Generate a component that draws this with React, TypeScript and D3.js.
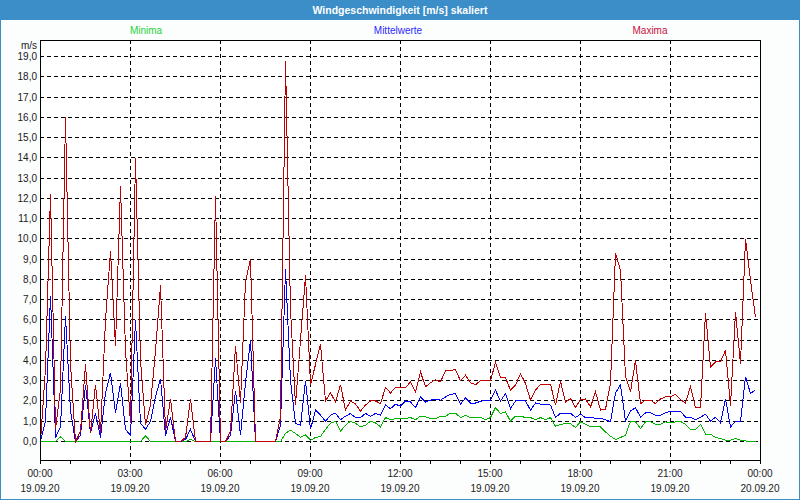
import { useEffect } from "react";
import * as d3 from "d3";

// 10-minute values, 19.09.20 00:00 .. 23:50
const maxima = [
  0, 3.6, 12.2, 0.6, 2.6, 16.0, 3.8, 0, 0.5, 3.8,
  0.4, 2.8, 0.4, 6.0, 9.4, 4.7, 12.6, 4.5, 0.9, 14.0,
  4.0, 0.8, 1.8, 4.5, 7.7, 0.5, 2.1, 0, 0, 0.2,
  2.1, 0, 0, 0, 0, 12.1, 0, 0, 0.5, 4.7,
  1.9, 7.9, 9.0, 0, 0, 0, 0, 0, 1.2, 18.8,
  6.5, 1.8, 5.0, 8.2, 2.8, 3.8, 4.8, 2.0, 2.4, 1.95,
  2.8, 1.55, 2.0, 1.85, 1.5, 1.8, 2.0, 2.0, 1.87, 2.66,
  2.4, 2.66, 2.66, 2.66, 2.94, 2.45, 3.43, 2.7, 2.9, 3.05,
  2.94, 3.5, 3.5, 3.55, 3.0, 3.27, 2.9, 2.8, 3.0, 3.0,
  3.0, 3.9, 3.14, 3.15, 2.53, 2.78, 3.35, 2.86, 2.04, 2.53,
  2.83, 2.83, 2.83, 1.79, 2.97, 1.95, 2.12, 1.68, 2.07, 2.1,
  1.7, 2.45, 1.55, 1.6, 2.85, 9.3, 8.45, 3.2, 2.45, 4.0,
  1.87, 2.04, 2.04, 1.87, 2.1, 2.2, 2.2, 2.33, 2.07, 1.9,
  2.72, 1.67, 1.67, 6.34, 3.68, 3.93, 3.93, 4.5, 1.76, 6.4,
  3.85, 10.0, 7.95, 6.14,
];

const mittelwerte = [
  0, 1.0, 7.2, 0.2, 0.7, 6.2, 1.5, 0, 0.3, 2.8,
  0.4, 1.4, 0.2, 2.4, 3.4, 1.4, 2.9, 0.6, 0.3, 6.0,
  0.9, 0.6, 1.0, 2.2, 3.1, 0.3, 1.2, 0, 0, 0.1,
  0.6, 0, 0, 0, 0, 4.1, 0, 0, 0.3, 2.5,
  0.3, 2.9, 5.0, 0, 0, 0, 0, 0, 0.8, 8.5,
  3.0, 0.9, 0.8, 3.0, 0.6, 1.55, 1.3, 1.0, 1.3, 1.4,
  1.08, 1.25, 1.38, 1.18, 1.18, 1.38, 1.25, 1.38, 1.3, 1.8,
  1.62, 1.84, 1.74, 2.0, 1.95, 1.67, 2.2, 1.95, 2.04, 2.08,
  2.04, 2.2, 2.33, 2.36, 1.84, 2.15, 1.9, 1.9, 1.98, 2.04,
  2.04, 2.53, 2.0, 2.36, 1.62, 2.0, 2.04, 2.0, 1.55, 1.9,
  1.84, 1.84, 1.8, 1.18, 1.4, 1.4, 1.4, 1.18, 1.35, 1.18,
  1.18, 1.15, 1.15, 1.08, 0.97, 2.4, 2.8, 1.0, 1.5, 1.67,
  1.2, 1.41, 1.41, 1.3, 1.3, 1.41, 1.5, 1.5, 1.5, 1.2,
  1.2, 1.08, 1.2, 1.35, 1.0, 1.2, 0.92, 2.1, 0.72, 1.0,
  1.0, 3.2, 2.37, 2.56,
];

const minima = [
  0, 0, 0, 0, 0.23, 0, 0, 0, 0, 0,
  0, 0, 0, 0, 0, 0, 0, 0, 0, 0,
  0, 0.28, 0, 0, 0, 0, 0, 0, 0, 0,
  0.1, 0, 0, 0, 0, 0, 0, 0, 0, 0,
  0, 0, 0, 0, 0, 0, 0, 0, 0, 0.4,
  0.56, 0.4, 0.2, 0.33, 0.06, 0.2, 0.25, 0.6, 0.9, 1.0,
  0.5, 0.8, 1.0, 0.9, 0.72, 0.8, 1.0, 0.92, 0.72, 1.18,
  1.07, 1.13, 1.12, 1.13, 1.18, 1.08, 1.25, 1.22, 1.13, 1.13,
  1.25, 1.25, 1.4, 1.4, 1.18, 1.3, 1.18, 1.18, 1.2, 1.08,
  1.18, 1.67, 1.38, 1.46, 1.0, 1.25, 1.25, 1.18, 1.18, 1.08,
  1.18, 1.08, 1.18, 0.75, 0.85, 0.88, 0.88, 0.69, 0.97, 0.85,
  0.72, 0.72, 0.72, 0.47, 0.26, 0.1, 0.2, 0.31, 1.0, 0.97,
  0.64, 0.97, 0.97, 0.85, 0.85, 0.97, 0.92, 0.97, 0.99, 0.85,
  0.59, 0.59, 0.85, 0.36, 0.36, 0.2, 0.15, 0.07, 0.07, 0.15,
  0.07, 0.03, 0, 0,
];

const yTicks = d3.range(0, 20);
const legend = ["Minima", "Mittelwerte", "Maxima"];
const title = "Windgeschwindigkeit [m/s] skaliert";

const start = new Date(2020, 8, 19, 0, 0);
const end = new Date(2020, 8, 20, 0, 0);
const times = maxima.map((_, i) => d3.timeMinute.offset(start, i * 10));

const W = 800,
  H = 500;
const plot = { left: 40, right: 760, top: 40, bottom: 460 };

const x = d3.scaleTime().domain([start, end]).range([plot.left, plot.right]);
const y = d3.scaleLinear().domain([0, 19]).range([441, 56]);

const font = "'Liberation Sans', Arial, sans-serif";

export default function App() {
  useEffect(() => {
    document.body.style.margin = "0";
  }, []);

  const line = d3
    .line<number>()
    .x((_, i) => x(times[i]) + 0.5)
    .y((d) => y(d) + 0.5);

  const hourTicks = x.ticks(d3.timeHour.every(1)!);
  const majorTicks = x.ticks(d3.timeHour.every(3)!);
  const fmtTime = d3.timeFormat("%H:%M");
  const fmtDate = d3.timeFormat("%d.%m.%y");
  const px = (v: number) => Math.round(v) + 0.5;

  const series = [
    { name: "Minima", values: minima, color: "#00b400", text: "#1fd23c", cx: 146 },
    { name: "Mittelwerte", values: mittelwerte, color: "#0000ff", text: "#2a2aff", cx: 398 },
    { name: "Maxima", values: maxima, color: "#c00000", text: "#c8103c", cx: 650 },
  ];

  return (
    <svg
      width={W}
      height={H}
      style={{ position: "fixed", left: 0, top: 0, display: "block" }}
      fontFamily={font}
    >
      <rect x={0} y={0} width={W} height={H} fill="#3b8ec7" />
      <rect x={1} y={20} width={W - 2} height={H - 21} fill="#fcfdfd" />
      <text x={W / 2} y={14} textAnchor="middle" fill="#ffffff" fontSize={10.5} fontWeight="bold">
        {title}
      </text>

      {series.map((s, k) => (
        <text key={legend[k]} x={s.cx} y={34} textAnchor="middle" fill={s.text} fontSize={10}>
          {legend[k]}
        </text>
      ))}

      <rect
        x={plot.left + 0.5}
        y={plot.top + 0.5}
        width={plot.right - plot.left}
        height={plot.bottom - plot.top}
        fill="#ffffff"
      />

      {/* horizontal grid */}
      {yTicks.map((t) => (
        <line
          key={"h" + t}
          x1={plot.left}
          x2={plot.right}
          y1={px(y(t))}
          y2={px(y(t))}
          stroke="#000"
          strokeDasharray="4,3"
          shapeRendering="crispEdges"
        />
      ))}
      {/* vertical grid */}
      {majorTicks
        .filter((t) => +t > +start && +t < +end)
        .map((t) => (
          <line
            key={"v" + +t}
            x1={px(x(t))}
            x2={px(x(t))}
            y1={plot.top}
            y2={plot.bottom}
            stroke="#000"
            strokeDasharray="4,3"
            shapeRendering="crispEdges"
          />
        ))}

      {series.map((s) => (
        <path
          key={s.name}
          d={line(s.values) || ""}
          fill="none"
          stroke={s.color}
          strokeWidth={1}
          shapeRendering="crispEdges"
        />
      ))}

      <rect
        x={plot.left + 0.5}
        y={plot.top + 0.5}
        width={plot.right - plot.left}
        height={plot.bottom - plot.top}
        fill="none"
        stroke="#000"
        shapeRendering="crispEdges"
      />

      {/* y labels */}
      <text x={37} y={49} textAnchor="end" fontSize={10} fill="#1a1a1a">
        m/s
      </text>
      {yTicks.map((t) => (
        <text
          key={"yl" + t}
          x={37}
          y={y(t) + 4}
          textAnchor="end"
          fontSize={10}
          fill="#1a1a1a"
        >
          {d3.format(".1f")(t).replace(".", ",")}
        </text>
      ))}

      {/* x ticks and labels */}
      {hourTicks.map((t) => (
        <line
          key={"t" + +t}
          x1={px(x(t))}
          x2={px(x(t))}
          y1={plot.bottom}
          y2={plot.bottom + 4}
          stroke="#000"
          shapeRendering="crispEdges"
        />
      ))}
      {majorTicks.map((t) => (
        <g key={"xl" + +t} fontSize={10} fill="#1a1a1a" textAnchor="middle">
          <text x={x(t)} y={477}>
            {fmtTime(t)}
          </text>
          <text x={x(t)} y={492}>
            {fmtDate(t)}
          </text>
        </g>
      ))}
    </svg>
  );
}
